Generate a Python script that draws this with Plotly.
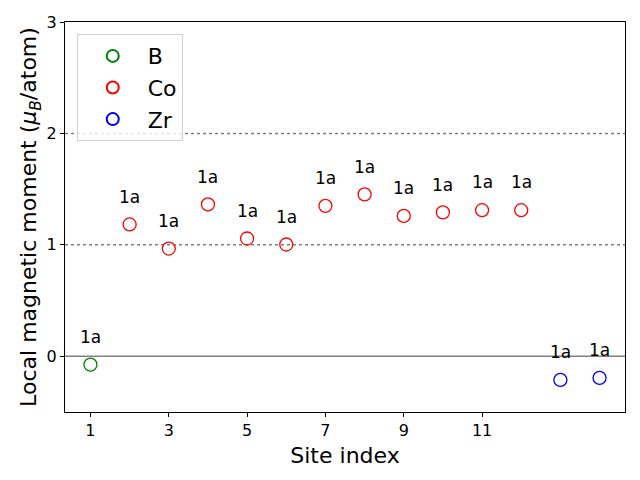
import plotly.graph_objects as go

elements = ["B", "Co", "Zr"]
colors = ["green", "red", "blue"]
b_sites = [1]
b_moments = [-0.075]
co_sites = [2, 3, 4, 5, 6, 7, 8, 9, 10, 11, 12]
co_moments = [1.183, 0.967, 1.363, 1.057, 1.003, 1.350, 1.453, 1.260, 1.291, 1.311, 1.311]
zr_sites = [13, 14]
zr_moments = [-0.212, -0.194]
site_labels = ["1a"] * 14
x_ticks = [1, 3, 5, 7, 9, 11]
y_ticks = [0, 1, 2, 3]

FONT = "DejaVu Sans"
fig = go.Figure()

groups = [(b_sites, b_moments), (co_sites, co_moments), (zr_sites, zr_moments)]
for name, col, (xs, ys) in zip(elements, colors, groups):
    fig.add_trace(go.Scatter(
        x=xs, y=ys, mode="markers", name=name,
        marker=dict(symbol="circle-open", size=13, color=col, line=dict(width=1.3, color=col)),
    ))

all_x = b_sites + co_sites + zr_sites
all_y = b_moments + co_moments + zr_moments
for xv, yv, lab in zip(all_x, all_y, site_labels):
    fig.add_annotation(x=xv, y=yv + 0.25, text=lab, showarrow=False,
                       xanchor="center", yanchor="middle",
                       font=dict(family=FONT, size=17, color="black"))

fig.add_hline(y=0, line=dict(color="gray", width=1.5), layer="below")
for yv in [1, 2]:
    fig.add_hline(y=yv, line=dict(color="gray", width=1.5, dash="dot"), layer="below")

fig.update_layout(
    width=632, height=472, autosize=False,
    margin=dict(l=57, r=15, t=14, b=68),
    paper_bgcolor="white", plot_bgcolor="white",
    font=dict(family=FONT, color="black"),
    showlegend=True,
    legend=dict(x=0.021, y=0.969, xanchor="left", yanchor="top",
                bgcolor="rgba(255,255,255,0.8)", bordercolor="#d0d0d0", borderwidth=1,
                font=dict(family=FONT, size=22), itemsizing="constant", itemwidth=60,
                tracegroupgap=4),
    xaxis=dict(range=[0.35, 14.65], tickvals=x_ticks, ticks="outside", ticklen=4,
               tickcolor="black", showline=True, linecolor="black", linewidth=1.2,
               mirror=True, showgrid=False, zeroline=False, automargin=False,
               tickfont=dict(family=FONT, size=16),
               title=dict(text="Site index", font=dict(family=FONT, size=22), standoff=8)),
    yaxis=dict(range=[-0.5, 3], tickvals=y_ticks, ticks="outside", ticklen=4,
               tickcolor="black", showline=True, linecolor="black", linewidth=1.2,
               mirror=True, showgrid=False, zeroline=False, automargin=False,
               tickfont=dict(family=FONT, size=16),
               title=dict(text="Local magnetic moment (<i>μ</i><sub><i>B</i></sub>/atom)",
                          font=dict(family=FONT, size=22), standoff=3)),
)

fig.write_html("out.html")
